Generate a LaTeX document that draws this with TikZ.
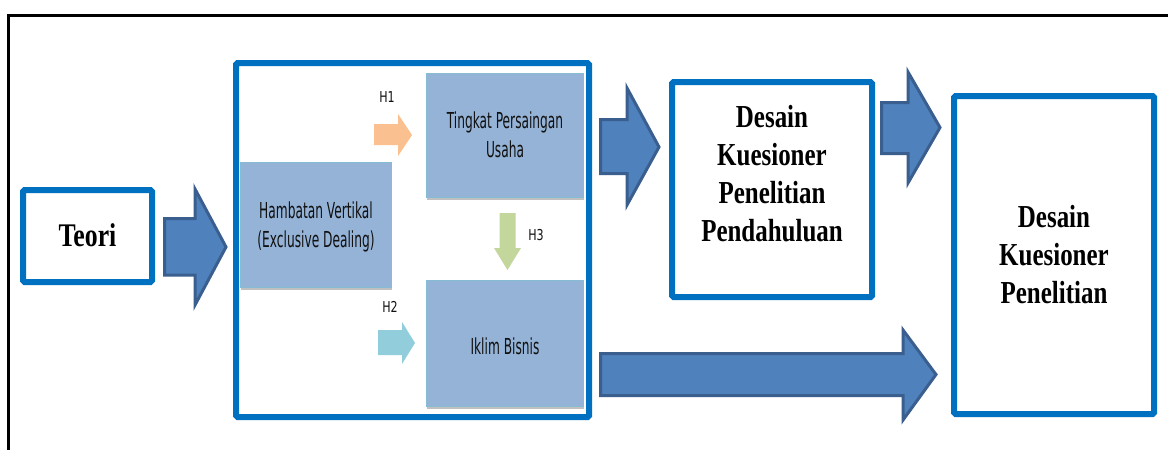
\documentclass[tikz,border=0pt]{standalone}
\usepackage{fontspec}
\setmainfont{Liberation Serif}
\newfontfamily\sansN[FakeStretch=0.555]{DejaVu Sans}
\newfontfamily\sansH[FakeStretch=0.74]{DejaVu Sans}
\newfontfamily\serifB[FakeStretch=0.78]{Liberation Serif}
\usetikzlibrary{shadows}
\definecolor{frameblue}{HTML}{0070C0}
\definecolor{arrowfill}{HTML}{4F81BD}
\definecolor{arrowdark}{HTML}{3A5F8F}
\definecolor{lbfill}{HTML}{95B3D7}
\definecolor{lbborder}{HTML}{86BCD4}
\definecolor{hone}{HTML}{FAC08F}
\definecolor{htwo}{HTML}{92CDDC}
\definecolor{hthree}{HTML}{C3D69B}
\definecolor{txt}{HTML}{111111}
\tikzset{
  bluebox/.style={draw=frameblue, line width=6pt, fill=white, inner sep=0pt, rounded corners=1.5pt},
  lightbox/.style={draw=lbborder, line width=1.5pt, fill=lbfill, inner sep=0pt,
    drop shadow={shadow xshift=0.8pt, shadow yshift=-2.5pt, opacity=0.35, fill=black!70}},
  bigarrow/.style={fill=arrowfill, draw=arrowdark, line width=3pt, line join=miter},
  serif text/.style={font=\serifB\bfseries\fontsize{32}{38}\selectfont, align=center, text=black, inner sep=0pt},
  sans text/.style={font=\sansN\fontsize{22}{29}\selectfont, align=center, text=txt, inner sep=0pt},
  hlabel/.style={font=\sansH\fontsize{15}{17}\selectfont, text=txt, inner sep=0pt},
}
\begin{document}
\begin{tikzpicture}[x=1pt,y=-1pt]
\useasboundingbox (0,0) rectangle (1168,450);
\clip (0,0) rectangle (1168,450);
\fill[white] (0,0) rectangle (1168,450);
% outer black frame (runs off the right and bottom)
\draw[line width=3pt, black] (8.5,15.5) rectangle (1185,470);

% main boxes
\node[bluebox, minimum width=129pt, minimum height=92pt] (teori) at (87.5,236) {};
\node[bluebox, minimum width=353pt, minimum height=354pt] (inner) at (412.5,240) {};
\node[bluebox, minimum width=200pt, minimum height=215pt] (pend) at (772,189.5) {};
\node[bluebox, minimum width=200pt, minimum height=318pt] (final) at (1054,255) {};

% light boxes
\node[lightbox, minimum width=151pt, minimum height=125pt] (hamb) at (316,225) {};
\node[lightbox, minimum width=157pt, minimum height=124pt] (ting) at (505,135.5) {};
\node[lightbox, minimum width=157pt, minimum height=126pt] (iklim) at (505,343.5) {};

% texts
\node[serif text, font=\serifB\bfseries\fontsize{33}{38}\selectfont] (tTeori) at (87.5,235) {Teori};
\node[serif text] (tPend) at (772,174) {Desain\\Kuesioner\\Penelitian\\Pendahuluan};
\node[serif text] (tFinal) at (1054,255) {Desain\\Kuesioner\\Penelitian};
\node[sans text] (tHamb) at (316,227) {Hambatan Vertikal\\(Exclusive Dealing)};
\node[sans text] (tTing) at (505,135) {Tingkat Persaingan\\Usaha};
\node[sans text] (tIklim) at (505,346) {Iklim Bisnis};

% big block arrows
\draw[bigarrow] (164.5,218.5) -- (195,218.5) -- (195,189) -- (226,247) -- (195,305) -- (195,275) -- (164.5,275) -- cycle;
\draw[bigarrow] (600.5,119.5) -- (627,119.5) -- (627,88) -- (659,147) -- (627,205) -- (627,173.5) -- (600.5,173.5) -- cycle;
\draw[bigarrow] (881.5,102.5) -- (908,102.5) -- (908,72) -- (940,127.5) -- (908,183) -- (908,153.5) -- (881.5,153.5) -- cycle;
\draw[bigarrow] (600.5,353.5) -- (903,353.5) -- (903,330) -- (936,374.5) -- (903,420) -- (903,395.5) -- (600.5,395.5) -- cycle;

% small hypothesis arrows
\fill[hone] (374,124) -- (398,124) -- (398,114) -- (412,135) -- (398,156) -- (398,145) -- (374,145) -- cycle;
\fill[htwo] (378,330) -- (402,330) -- (402,322) -- (415,343) -- (402,364) -- (402,355) -- (378,355) -- cycle;
\fill[hthree] (499.5,213) -- (515.5,213) -- (515.5,248) -- (521,248) -- (507.5,270) -- (494,248) -- (499.5,248) -- cycle;

% labels
\node[hlabel] (h1) at (387,97) {H1};
\node[hlabel] (h2) at (390,307) {H2};
\node[hlabel] (h3) at (536,235) {H3};
\end{tikzpicture}
\end{document}
